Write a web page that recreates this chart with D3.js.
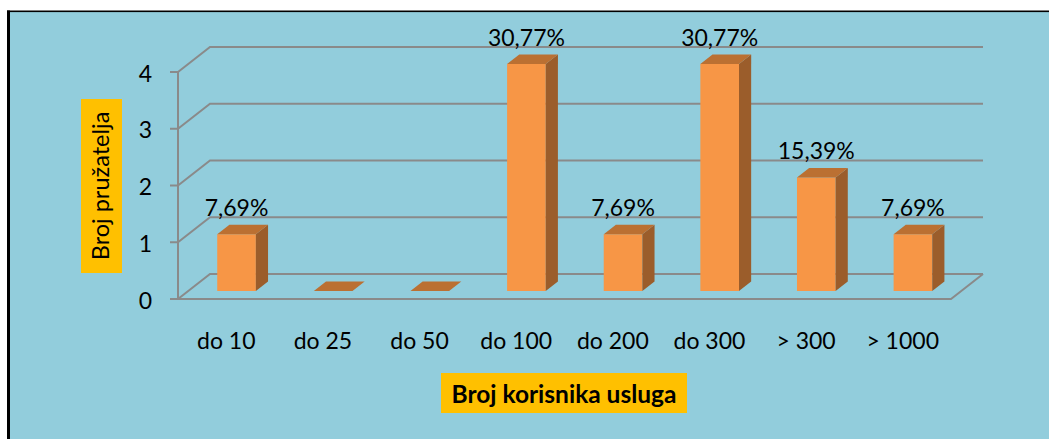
<!DOCTYPE html>
<html>
<head>
<meta charset="utf-8">
<script src="https://cdn.jsdelivr.net/npm/d3@7/dist/d3.min.js"></script>
<style>
  body { margin: 0; background: #fff; }
  svg { display: block; }
  text { font-family: Lato, "Open Sans", sans-serif; fill: #000; }
</style>
</head>
<body>
<svg id="chart" width="1049" height="439"></svg>
<script>
// chart data
var categories = ["do 10", "do 25", "do 50", "do 100", "do 200", "do 300", "> 300", "> 1000"];
var counts = [1, 0, 0, 4, 1, 4, 2, 1];
var percentLabels = ["7,69%", "", "", "30,77%", "7,69%", "30,77%", "15,39%", "7,69%"];
var yTicks = [0, 1, 2, 3, 4];

var svg = d3.select("#chart");

// background + frame
svg.append("rect").attr("x", 9).attr("y", 11).attr("width", 1040).attr("height", 428).attr("fill", "#92cddc");
svg.append("rect").attr("x", 7).attr("y", 10.5).attr("width", 3).attr("height", 428.5).attr("fill", "#000");
svg.append("rect").attr("x", 7).attr("y", 10.5).attr("width", 1042).attr("height", 1.6).attr("fill", "#000");

// plot geometry
var x = d3.scaleBand().domain(categories).range([178, 951]);
var y = d3.scaleLinear().domain([0, 4]).range([299, 72]);
var DX = 32, DY = -25;          // full depth of the 3d box
var d0 = 0.32, d1 = 0.70;       // depth slot of the bars
var gridColor = "#8a8a8a";

var grid = svg.append("g").attr("stroke", gridColor).attr("stroke-width", 2).attr("fill", "none");

// back wall + side wall lines
yTicks.forEach(function (t) {
    grid.append("path").attr("d", d3.line()([
        [x.range()[0], y(t)],
        [x.range()[0] + DX, y(t) + DY],
        [x.range()[1] + DX, y(t) + DY]
    ]));
    // tick mark
    grid.append("line")
        .attr("x1", x.range()[0] - 8).attr("x2", x.range()[0])
        .attr("y1", y(t)).attr("y2", y(t));
});

// floor front edge + right edge
grid.append("path").attr("d", d3.line()([
    [x.range()[0], y(0)],
    [x.range()[1], y(0)],
    [x.range()[1] + DX, y(0) + DY]
]));
// vertical axis
grid.append("line")
    .attr("x1", x.range()[0]).attr("x2", x.range()[0])
    .attr("y1", y(0)).attr("y2", y(4));

// bars
var bw = x.bandwidth() * 0.4;
var bars = svg.append("g");
categories.forEach(function (c, i) {
    var v = counts[i];
    var fx = x(c) + x.bandwidth() * 0.3 + d0 * DX;
    var fyB = y(0) + d0 * DY;
    var fyT = y(v) + d0 * DY;
    var ddx = (d1 - d0) * DX, ddy = (d1 - d0) * DY;
    var g = bars.append("g");
    if (v > 0) {
        // front
        g.append("rect").attr("x", fx).attr("y", fyT).attr("width", bw).attr("height", fyB - fyT)
            .attr("fill", "#f79646");
        // side
        g.append("path").attr("d", d3.line()([
            [fx + bw, fyT], [fx + bw + ddx, fyT + ddy], [fx + bw + ddx, fyB + ddy], [fx + bw, fyB]
        ]) + "Z").attr("fill", "#9b5d2b");
    }
    // top
    g.append("path").attr("d", d3.line()([
        [fx, fyT], [fx + ddx, fyT + ddy], [fx + bw + ddx, fyT + ddy], [fx + bw, fyT]
    ]) + "Z").attr("fill", "#bb7032");

    if (percentLabels[i]) {
        svg.append("text")
            .attr("x", fx + bw / 2)
            .attr("y", fyT + ddy - 9)
            .attr("text-anchor", "middle")
            .attr("font-size", 23)
            .text(percentLabels[i]);
    }
});

// y tick labels
yTicks.forEach(function (t) {
    svg.append("text")
        .attr("x", 152).attr("y", y(t) + 9.5)
        .attr("text-anchor", "end")
        .attr("font-size", 23)
        .text(t);
});

// category labels
categories.forEach(function (c) {
    svg.append("text")
        .attr("x", x(c) + x.bandwidth() / 2)
        .attr("y", 349)
        .attr("text-anchor", "middle")
        .attr("font-size", 23)
        .text(c);
});

// y axis title
svg.append("rect").attr("x", 81).attr("y", 99).attr("width", 41).attr("height", 174).attr("fill", "#ffc000");
svg.append("text")
    .attr("transform", "translate(109,186) rotate(-90)")
    .attr("text-anchor", "middle")
    .attr("font-size", 23.5)
    .text("Broj pružatelja");

// x axis title
svg.append("rect").attr("x", 441).attr("y", 373).attr("width", 246).attr("height", 40).attr("fill", "#ffc000");
svg.append("text")
    .attr("x", 564).attr("y", 402.5)
    .attr("text-anchor", "middle")
    .attr("font-size", 24.5)
    .attr("font-weight", "bold")
    .text("Broj korisnika usluga");
</script>
</body>
</html>
